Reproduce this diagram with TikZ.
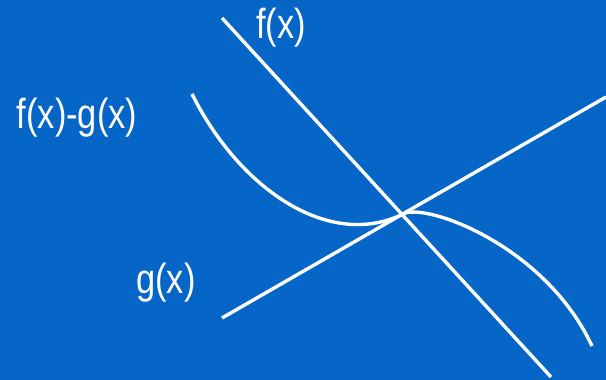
\documentclass[tikz,border=0pt]{standalone}
\usepackage{fontspec}
\setmainfont{Liberation Sans}[FakeStretch=0.82]
\definecolor{slidebg}{HTML}{0566C8}
\begin{document}
\begin{tikzpicture}[x=1pt, y=-1pt,
  curve/.style={draw=white, line width=3.4pt},
  lbl/.style={text=white, inner sep=0pt, font=\fontsize{42}{46}\selectfont}]
\fill[slidebg] (0,0) rectangle (606,380);
\useasboundingbox (0,0) rectangle (606,380);
% the two functions
\coordinate (f0) at (222,18);
\coordinate (f1) at (551,377);
\coordinate (g0) at (222,318);
\coordinate (g1) at (606,97);
\coordinate (x0) at (403,214);
\draw[curve] (f0) -- (f1);
\draw[curve] (g0) -- (g1);
% their difference
\draw[curve] (192,94) .. controls (240,190) and (330,250) .. (x0)
  .. controls (425,202) and (545,245) .. (592,346);
\node[lbl] (flbl)  at (281,28)  {f(x)};
\node[lbl] (dlbl)  at (77,118)  {f(x)-g(x)};
\node[lbl] (glbl)  at (166,283) {g(x)};
\end{tikzpicture}
\end{document}
